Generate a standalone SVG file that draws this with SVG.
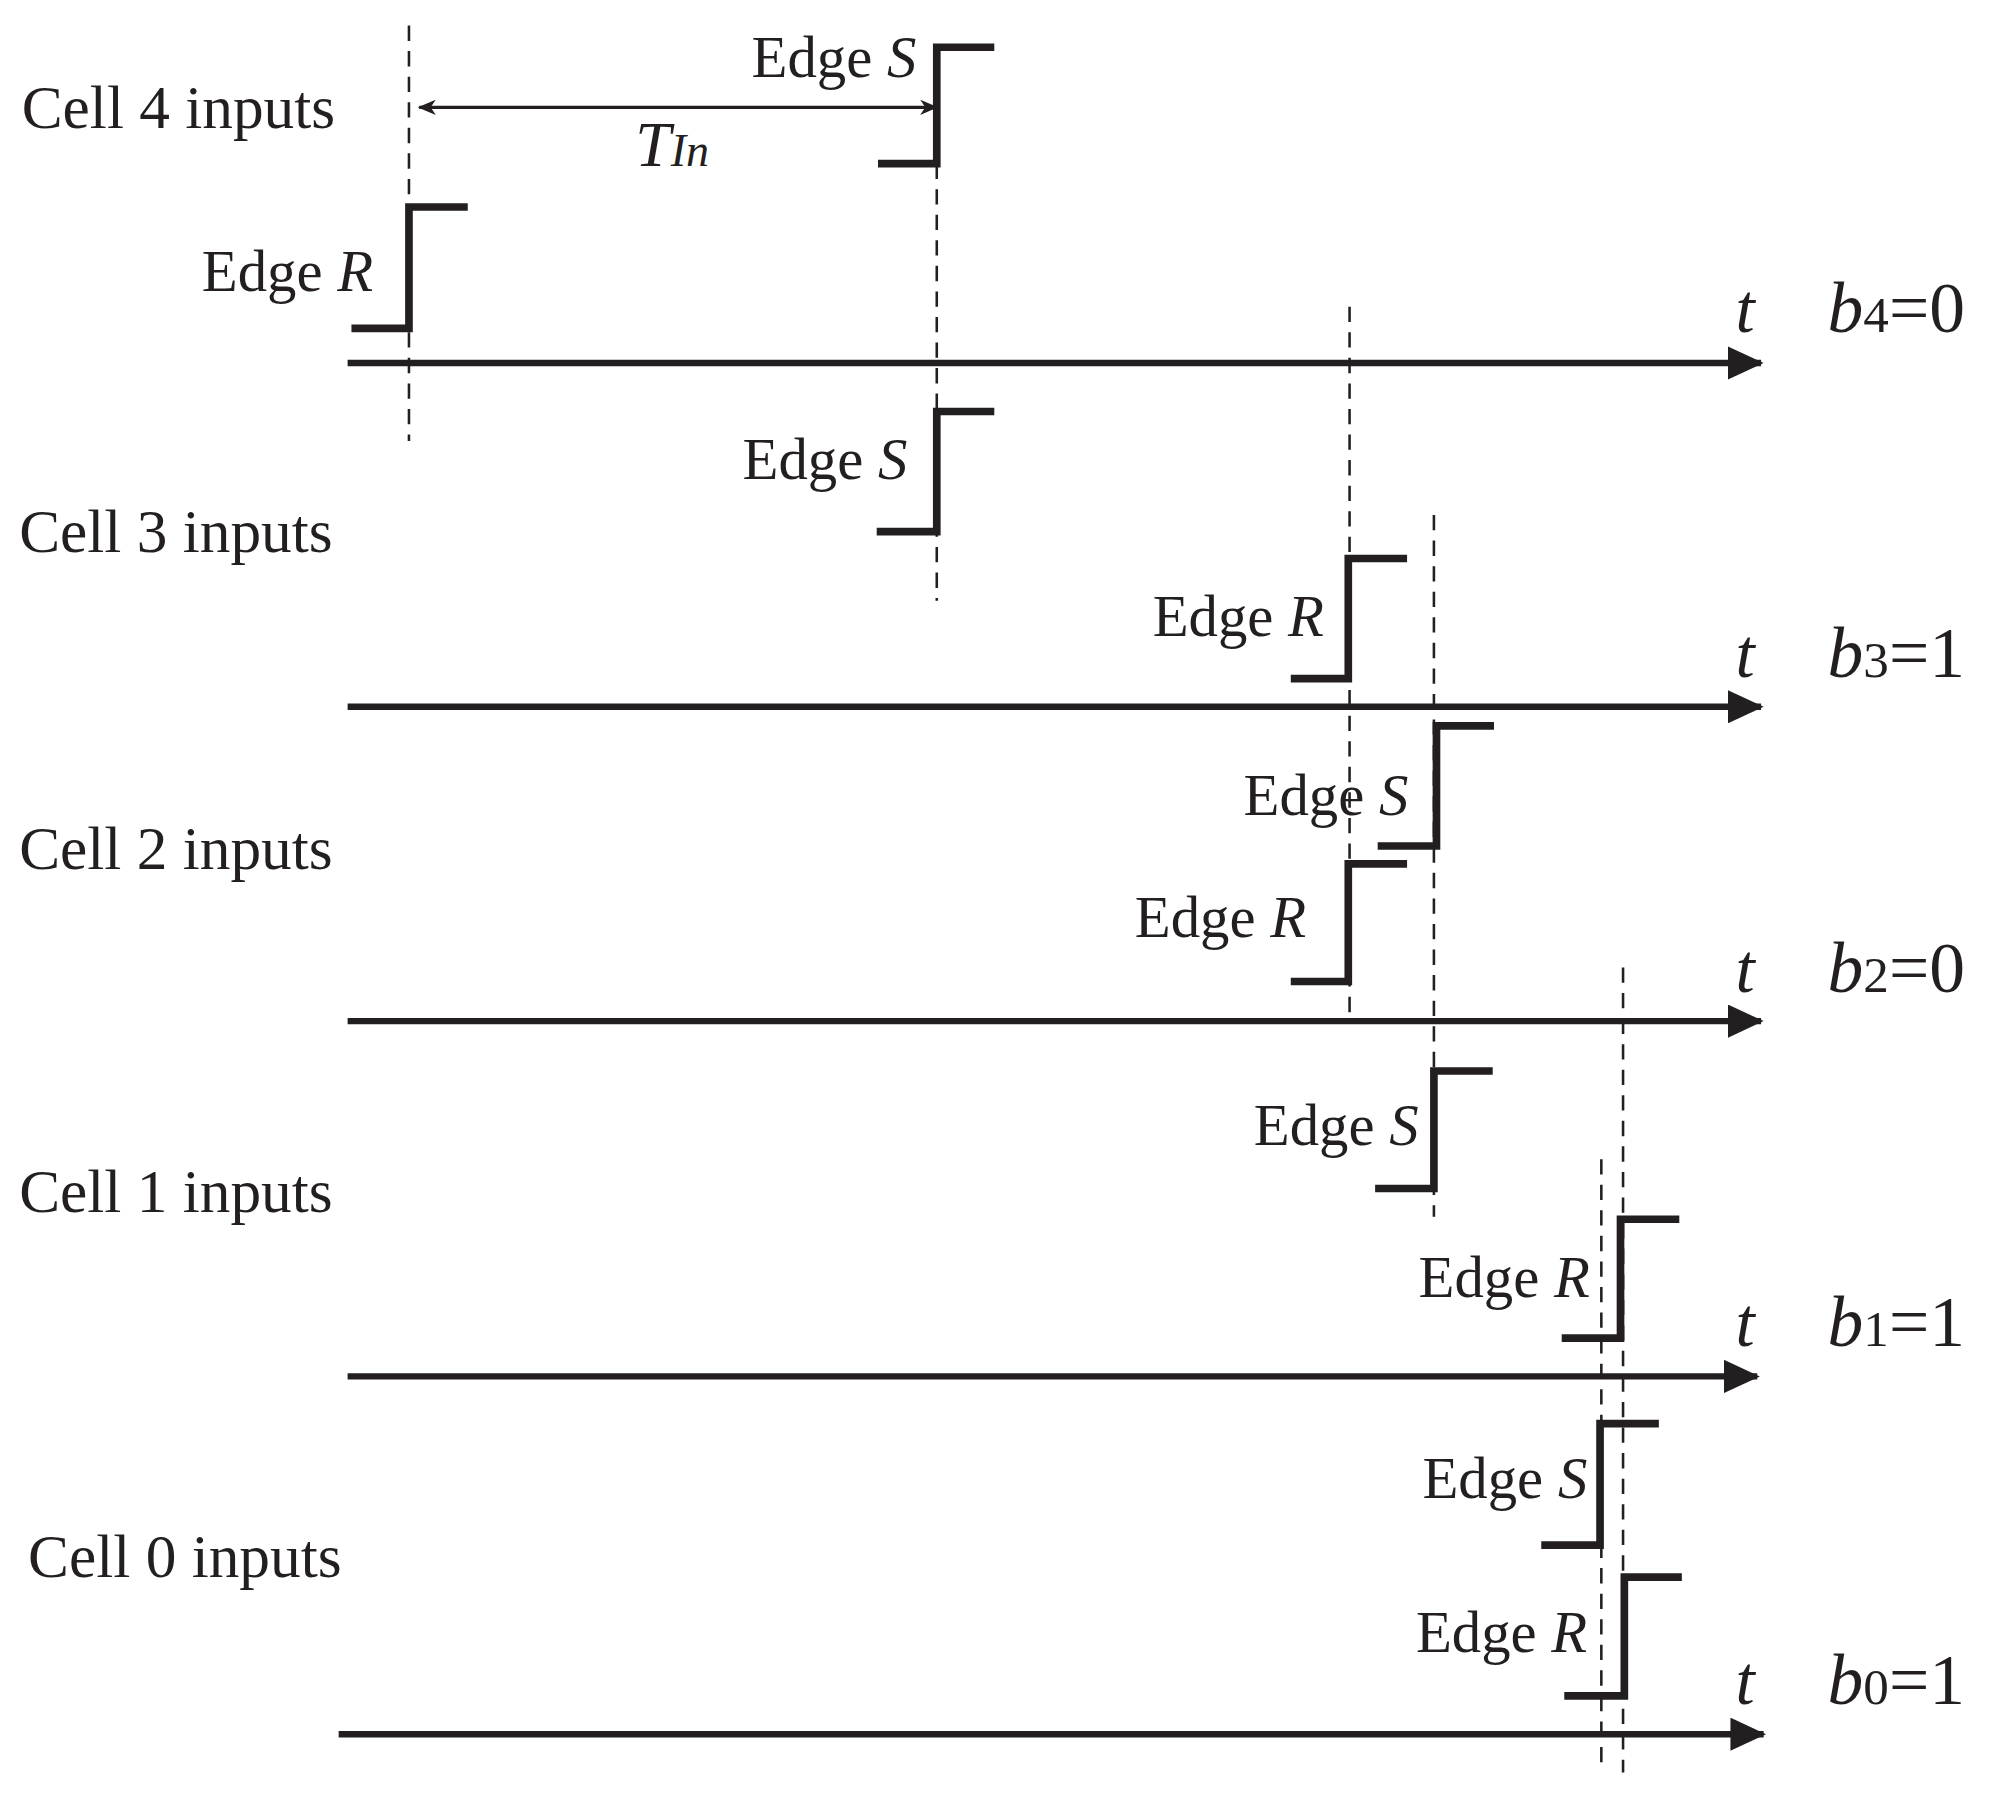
<svg xmlns="http://www.w3.org/2000/svg" width="2004" height="1799" viewBox="0 0 2004 1799">
<defs>
<marker id="ah" markerUnits="userSpaceOnUse" markerWidth="28" markerHeight="26" refX="26" refY="13" orient="auto"><path d="M0,0 L28,13 L0,26 Z" fill="#231f20"/></marker>
<marker id="sh" markerUnits="userSpaceOnUse" markerWidth="14" markerHeight="12" refX="13" refY="6" orient="auto-start-reverse"><path d="M0,0 L14,6 L0,12 L4,6 Z" fill="#231f20"/></marker>
<style>
text{font-family:"Liberation Serif","Times New Roman",serif;fill:#231f20}
.lbl{font-size:48px}
.e{font-size:46px;text-anchor:end}
.t{font-size:54px;font-style:italic}
.b{font-size:56px}
.ax{stroke:#231f20;stroke-width:5;fill:none}
.st{stroke:#231f20;stroke-width:6;fill:none}
.d{stroke:#231f20;stroke-width:2;stroke-dasharray:12,8;fill:none}
</style>
</defs>
<rect width="2004" height="1799" fill="#fff"/>
<g transform="scale(1.278)">
<g id="connectors">
<line class="ax" x1="272" y1="284" x2="1378" y2="284" marker-end="url(#ah)"/>
<line class="ax" x1="272" y1="553" x2="1378" y2="553" marker-end="url(#ah)"/>
<line class="ax" x1="272" y1="799" x2="1378" y2="799" marker-end="url(#ah)"/>
<line class="ax" x1="272" y1="1077" x2="1375" y2="1077" marker-end="url(#ah)"/>
<line class="ax" x1="265" y1="1357" x2="1380" y2="1357" marker-end="url(#ah)"/>
<line class="d" x1="320" y1="20" x2="320" y2="345"/>
<line class="d" x1="733" y1="128" x2="733" y2="470"/>
<line class="d" x1="1056" y1="240" x2="1056" y2="795"/>
<line class="d" x1="1122" y1="403" x2="1122" y2="952"/>
<line class="d" x1="1270" y1="757" x2="1270" y2="1387"/>
<line class="d" x1="1253" y1="907" x2="1253" y2="1387"/>
<line stroke="#231f20" stroke-width="2.5" x1="328" y1="84" x2="733" y2="84" marker-start="url(#sh)" marker-end="url(#sh)"/>
</g>
<g id="cell4">
<text class="lbl" x="17" y="100">Cell 4 inputs</text>
<path class="st" d="M687,128 H733 V37 H778"/>
<text class="e" x="717" y="60">Edge <tspan font-style="italic">S</tspan></text>
<path class="st" d="M275,257 H320 V162 H366"/>
<text class="e" x="292" y="228">Edge <tspan font-style="italic">R</tspan></text>
<text x="497" y="130" font-size="50" font-style="italic">T<tspan font-size="36">In</tspan></text>
<text class="t" x="1358" y="260">t</text>
<text class="b" x="1430" y="260"><tspan font-style="italic">b</tspan><tspan font-size="40">4</tspan>=0</text>
</g>
<g id="cell3">
<text class="lbl" x="15" y="432">Cell 3 inputs</text>
<path class="st" d="M686,416 H733 V322 H778"/>
<text class="e" x="710" y="375">Edge <tspan font-style="italic">S</tspan></text>
<path class="st" d="M1010,531 H1055 V437 H1101"/>
<text class="e" x="1036" y="498">Edge <tspan font-style="italic">R</tspan></text>
<text class="t" x="1358" y="530">t</text>
<text class="b" x="1430" y="530"><tspan font-style="italic">b</tspan><tspan font-size="40">3</tspan>=1</text>
</g>
<g id="cell2">
<text class="lbl" x="15" y="680">Cell 2 inputs</text>
<path class="st" d="M1078,662 H1124 V568 H1169"/>
<text class="e" x="1102" y="638">Edge <tspan font-style="italic">S</tspan></text>
<path class="st" d="M1010,768 H1055 V676 H1101"/>
<text class="e" x="1022" y="733">Edge <tspan font-style="italic">R</tspan></text>
<text class="t" x="1358" y="776">t</text>
<text class="b" x="1430" y="776"><tspan font-style="italic">b</tspan><tspan font-size="40">2</tspan>=0</text>
</g>
<g id="cell1">
<text class="lbl" x="15" y="948">Cell 1 inputs</text>
<path class="st" d="M1076,930 H1122 V838 H1168"/>
<text class="e" x="1110" y="896">Edge <tspan font-style="italic">S</tspan></text>
<path class="st" d="M1222,1047 H1268 V954 H1314"/>
<text class="e" x="1244" y="1015">Edge <tspan font-style="italic">R</tspan></text>
<text class="t" x="1358" y="1053">t</text>
<text class="b" x="1430" y="1053"><tspan font-style="italic">b</tspan><tspan font-size="40">1</tspan>=1</text>
</g>
<g id="cell0">
<text class="lbl" x="22" y="1234">Cell 0 inputs</text>
<path class="st" d="M1206,1209 H1252 V1114 H1298"/>
<text class="e" x="1242" y="1172">Edge <tspan font-style="italic">S</tspan></text>
<path class="st" d="M1224,1327 H1271 V1234 H1316"/>
<text class="e" x="1242" y="1293">Edge <tspan font-style="italic">R</tspan></text>
<text class="t" x="1358" y="1333">t</text>
<text class="b" x="1430" y="1333"><tspan font-style="italic">b</tspan><tspan font-size="40">0</tspan>=1</text>
</g>
</g>
</svg>
